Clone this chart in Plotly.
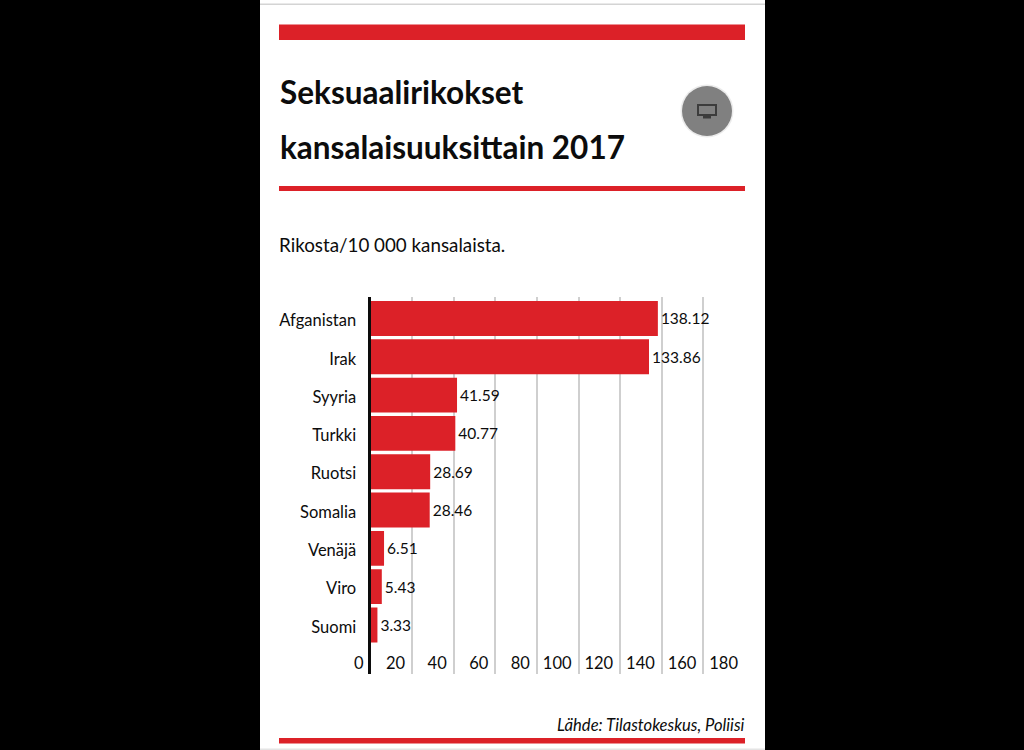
import plotly.graph_objects as go

countries = ["Afganistan", "Irak", "Syyria", "Turkki", "Ruotsi", "Somalia", "Venäjä", "Viro", "Suomi"]
rates = [138.12, 133.86, 41.59, 40.77, 28.69, 28.46, 6.51, 5.43, 3.33]
x_ticks = [0, 20, 40, 60, 80, 100, 120, 140, 160, 180]

W = 1024
H = 750
RED = "#dc2128"
INK = "#0c0c0c"
FONT = "Lato"


def px_x(v):
    return v / W


def px_y(v):
    return 1 - v / H


def box(x0, y0, x1, y1, color, **kw):
    # rectangle given in screen pixels
    return dict(
        type=kw.pop("type", "rect"),
        xref="paper",
        yref="paper",
        x0=px_x(x0),
        x1=px_x(x1),
        y0=px_y(y0),
        y1=px_y(y1),
        fillcolor=color,
        line=dict(width=0),
        layer="below",
        **kw,
    )


def label(x, y, text, size, anchor="left", **kw):
    return dict(
        x=px_x(x),
        y=px_y(y),
        xref="paper",
        yref="paper",
        text=text,
        showarrow=False,
        xanchor=anchor,
        yanchor="middle",
        font=dict(family=FONT, size=size, color=INK),
        **kw,
    )


fig = go.Figure()
fig.add_trace(
    go.Bar(
        x=rates,
        y=countries,
        orientation="h",
        marker=dict(color=RED, line=dict(width=0)),
        text=[f"{r:.2f}" for r in rates],
        textposition="outside",
        cliponaxis=False,
        textfont=dict(family=FONT, size=15.5, color=INK),
        hoverinfo="skip",
    )
)

shapes = [
    box(260, 0, 765, 750, "white"),
    box(260, 3.5, 765, 5, "#d4d4d4"),
    box(260, 748.5, 765, 750, "#e4e4e4"),
    box(279, 24.5, 745, 40, RED),
    box(279, 186, 745, 191, RED),
    box(279, 738, 745, 743.5, RED),
    # round button with the monitor icon
    box(680.5, 84.5, 733.5, 137.5, "#ebebeb", type="circle"),
    box(682, 86, 732, 136, "#808080", type="circle"),
    dict(
        type="rect", xref="paper", yref="paper",
        x0=px_x(698), x1=px_x(716), y0=px_y(105), y1=px_y(115),
        line=dict(color="#3c3c3c", width=2), fillcolor="#808080",
    ),
    box(703, 116, 711, 118.5, "#3c3c3c"),
]

annotations = [
    label(277.5, 92, "<b>Seksuaalirikokset</b>", 31.5),
    label(277.5, 147, "<b>kansalaisuuksittain 2017</b>", 31.5),
    label(277, 244.5, "Rikosta/10 000 kansalaista.", 18.8),
    label(747, 725, "<i>Lähde: Tilastokeskus, Poliisi</i>", 16.6, anchor="right"),
]

fig.update_layout(
    width=W,
    height=H,
    margin=dict(l=0, r=0, t=0, b=0, autoexpand=False),
    paper_bgcolor="black",
    plot_bgcolor="rgba(0,0,0,0)",
    showlegend=False,
    bargap=0.09,
    shapes=shapes,
    annotations=annotations,
    xaxis=dict(
        domain=[px_x(370.5), px_x(745)],
        range=[0, 180],
        tickmode="array",
        tickvals=x_ticks,
        ticktext=[str(t) for t in x_ticks],
        ticklabelposition="inside left",
        ticklabelshift=-7,
        ticklabelstandoff=-4,
        ticklabeloverflow="allow",
        ticks="",
        showgrid=True,
        gridcolor="#cfcfcf",
        gridwidth=2,
        zeroline=True,
        zerolinecolor="white",
        zerolinewidth=2,
        tickfont=dict(family=FONT, size=16.5, color=INK),
    ),
    yaxis=dict(
        domain=[px_y(674), px_y(297)],
        range=[9.28, -0.56],
        type="category",
        categoryorder="array",
        categoryarray=countries,
        ticks="",
        showgrid=False,
        zeroline=False,
        showline=True,
        linecolor="#0c0c0c",
        linewidth=3,
        layer="above traces",
        ticklabelstandoff=8,
        ticklabelshift=-2,
        tickfont=dict(family=FONT, size=16.5, color=INK),
    ),
)

fig.write_html(
    "out.html",
    config=dict(displayModeBar=False),
    post_script="document.body.style.margin='0';document.body.style.background='black';",
)
